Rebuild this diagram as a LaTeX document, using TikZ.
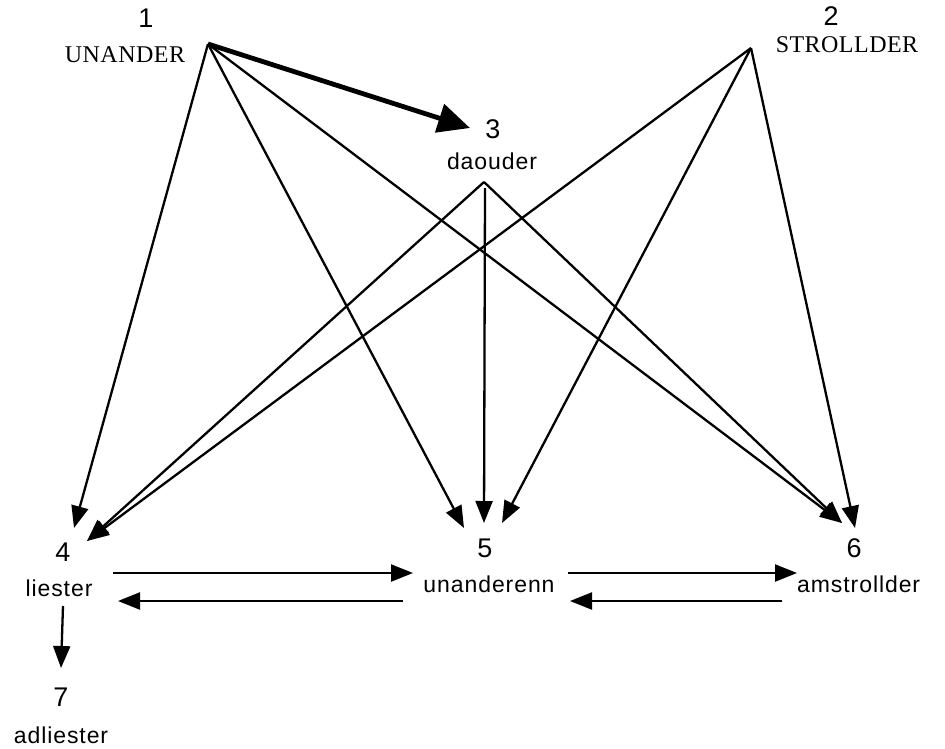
\documentclass[tikz,border=0pt]{standalone}
\usepackage{fontspec}
\setmainfont{Liberation Sans}
\newfontfamily\lsans[LetterSpace=4]{Liberation Sans}
\newfontfamily\tserif[LetterSpace=2]{Liberation Serif}
\usetikzlibrary{arrows.meta}
\begin{document}
\begin{tikzpicture}[x=1pt,y=-1pt,
  num/.style={inner sep=0pt,font=\fontsize{27}{30}\selectfont},
  lbl/.style={inner sep=0pt,font=\lsans\fontsize{23}{27}\selectfont},
  slbl/.style={inner sep=0pt,font=\tserif\fontsize{24}{27}\selectfont},
  edge/.style={line width=2.3pt,-{Triangle[length=22pt,width=17pt]}},
  bigedge/.style={line width=4.8pt,-{Triangle[length=32pt,width=29pt]}}]
\useasboundingbox (0,0) rectangle (945,748);
% texts
\node[num] (n1) at (146,18) {1};
\node[slbl] (l1) at (125,54.5) {UNANDER};
\node[num] (n2) at (831,16) {2};
\node[slbl] (l2) at (847,45) {STROLLDER};
\node[num] (n3) at (493,129.5) {3};
\node[lbl] (l3) at (492,161.5) {daouder};
\node[num] (n4) at (63,552) {4};
\node[lbl] (l4) at (59,588) {liester};
\node[num] (n5) at (485,548) {5};
\node[lbl] (l5) at (489,584.5) {unanderenn};
\node[num] (n6) at (854,548) {6};
\node[lbl,anchor=west] (l6) at (797,584.5) {amstrollder};
\node[num] (n7) at (61,697) {7};
\node[lbl] (l7) at (61,735) {adliester};
% connector end points
\coordinate (s1) at (208,44);
\coordinate (s2) at (751,48);
\coordinate (s3) at (484,182);
\coordinate (s3b) at (485,188);
\coordinate (t13) at (470,128);
\coordinate (t14) at (74,528);
\coordinate (t24) at (87,541);
\coordinate (t15) at (464,528);
\coordinate (t35) at (484,523);
\coordinate (t25) at (502,523);
\coordinate (t16) at (842,523);
\coordinate (t26) at (855,528);
\coordinate (a45s) at (113,573);
\coordinate (a45t) at (413,573);
\coordinate (a54s) at (403,601);
\coordinate (a54t) at (118,601);
\coordinate (a56s) at (568,573);
\coordinate (a56t) at (797,573);
\coordinate (a65s) at (782,601);
\coordinate (a65t) at (570,601);
\coordinate (a47s) at (63,606);
\coordinate (a47t) at (61,668);
% connectors
\draw[bigedge] (s1) -- (t13);
\draw[edge] (s1) -- (t14);
\draw[edge] (s1) -- (t15);
\draw[edge] (s1) -- (t16);
\draw[edge] (s2) -- (t24);
\draw[edge] (s2) -- (t25);
\draw[edge] (s2) -- (t26);
\draw[edge] (s3) -- (t24);
\draw[edge] (s3b) -- (t35);
\draw[edge] (s3) -- (t16);
\draw[edge] (a45s) -- (a45t);
\draw[edge] (a54s) -- (a54t);
\draw[edge] (a56s) -- (a56t);
\draw[edge] (a65s) -- (a65t);
\draw[edge] (a47s) -- (a47t);
\end{tikzpicture}
\end{document}
